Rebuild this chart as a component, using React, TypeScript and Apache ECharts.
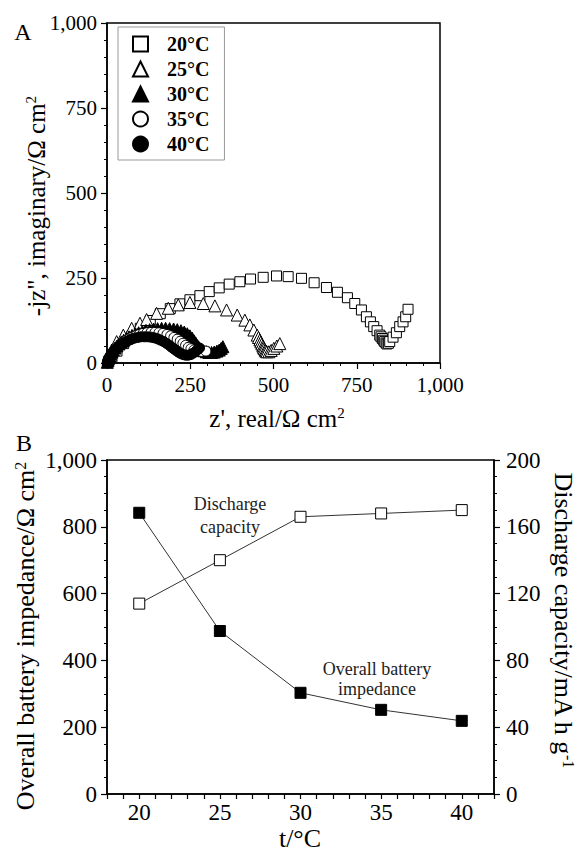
import React, { useEffect, useRef } from "react";
import * as echarts from "echarts";

// ---------- Panel A: Nyquist data (z', -z'') in Ω cm² ----------
const nyq20: number[][] = [
  [5, 5], [15, 18], [30, 35], [50, 57], [75, 80], [100, 102], [130, 125], [160, 145],
  [190, 160], [219, 174], [249, 186], [279, 198], [307, 210], [337, 221], [367, 232],
  [399, 239], [431, 247], [469, 252], [509, 256], [544, 254], [584, 249], [622, 236],
  [659, 222], [692, 208], [722, 192], [744, 175], [764, 156], [779, 136], [791, 121],
  [801, 107], [811, 95], [819, 82], [823, 77], [827, 72], [831, 67], [834, 63],
  [838, 59], [841, 56], [845, 58], [849, 63], [859, 76], [869, 89], [879, 107],
  [889, 121], [897, 136], [904, 158],
];
const nyq25: number[][] = [
  [4, 14], [14, 38], [29, 63], [49, 82], [74, 102], [99, 117], [119, 128], [149, 146],
  [184, 161], [214, 171], [249, 178], [289, 175], [324, 168], [359, 156], [391, 141],
  [414, 126], [429, 112], [441, 97], [451, 82], [455, 75], [459, 68], [462, 62],
  [465, 56], [468, 50], [470, 46], [472, 42], [475, 38], [477, 35], [480, 33],
  [486, 33], [493, 37], [501, 43], [510, 50], [519, 57],
];
const nyq30: number[][] = [
  [1, 2], [3, 8], [5, 14], [8, 20], [11, 26], [15, 32], [19, 38], [24, 44], [30, 50],
  [36, 56], [43, 62], [50, 67], [58, 72], [66, 77], [75, 81], [85, 86], [95, 89],
  [106, 93], [117, 96], [128, 98], [140, 100], [152, 101], [164, 102], [176, 102],
  [188, 101], [200, 100], [211, 98], [222, 95], [232, 91], [241, 86], [249, 80],
  [256, 73], [262, 65], [267, 58], [272, 51], [277, 45], [283, 40], [290, 36],
  [298, 33], [306, 31], [314, 31], [322, 32], [330, 35], [337, 38], [343, 43], [348, 48],
];
const nyq35: number[][] = [
  [1, 2], [3, 7], [6, 13], [9, 19], [13, 25], [17, 31], [22, 37], [28, 43], [34, 49],
  [41, 55], [49, 61], [57, 66], [66, 71], [76, 76], [86, 80], [97, 84], [108, 87],
  [120, 89], [132, 90], [144, 90], [156, 89], [168, 87], [180, 84], [191, 80],
  [201, 75], [211, 70], [220, 64], [228, 58], [236, 52], [244, 46], [252, 42],
  [261, 38], [271, 35], [283, 34], [297, 35],
];
const nyq40: number[][] = [
  [1, 1], [2, 6], [4, 11], [7, 17], [10, 22], [14, 28], [18, 33], [23, 38], [28, 43],
  [34, 48], [41, 53], [48, 58], [56, 62], [64, 66], [73, 70], [82, 73], [92, 75],
  [102, 77], [112, 77], [122, 77], [132, 76], [142, 74], [152, 71], [161, 67],
  [170, 63], [178, 58], [186, 53], [193, 47], [200, 42], [207, 37], [214, 32],
  [221, 28], [228, 25], [236, 23], [244, 23], [252, 25], [259, 29], [266, 34],
  [272, 39], [278, 44],
];
const legendNames = ["20°C", "25°C", "30°C", "35°C", "40°C"];

// ---------- Panel B ----------
const temperatures = [20, 25, 30, 35, 40];
const impedance = [842, 488, 303, 252, 219];
const capacity = [114, 140, 166, 168, 170];

const xTicksA = [0, 250, 500, 750, 1000];

const SERIF = "Liberation Serif, Times New Roman, serif";

export default function App() {
  const ref = useRef<HTMLDivElement>(null);

  useEffect(() => {
    if (!ref.current) return;
    const chart = echarts.init(ref.current, undefined, { renderer: "svg" });

    const axisLine = { lineStyle: { color: "#000", width: 1.5 } };
    const axisTick = { inside: false, length: 6, lineStyle: { color: "#000", width: 1.2 } };
    const minorTick = (n: number) => ({
      show: true,
      splitNumber: n,
      length: 3,
      lineStyle: { color: "#000", width: 1 },
    });
    const label = (size: number, margin: number, fmt?: (v: number) => string) => {
      const o: any = { color: "#000", fontFamily: SERIF, fontSize: size, margin };
      if (fmt) o.formatter = fmt;
      return o;
    };
    const comma = (v: number) => v.toLocaleString("en-US");

    const open = { color: "#fff", borderColor: "#000", borderWidth: 1, opacity: 1 };
    const filled = { color: "#000", borderColor: "#000", borderWidth: 1, opacity: 1 };

    const nyqSeries = [
      { name: legendNames[0], data: nyq20, symbol: "rect", size: 10, style: open },
      { name: legendNames[1], data: nyq25, symbol: "triangle", size: 12, style: open },
      { name: legendNames[2], data: nyq30, symbol: "triangle", size: 12, style: filled },
      { name: legendNames[3], data: nyq35, symbol: "circle", size: 10, style: open },
      { name: legendNames[4], data: nyq40, symbol: "circle", size: 10, style: filled },
    ].map((s) => ({
      type: "scatter",
      name: s.name,
      xAxisIndex: 0,
      yAxisIndex: 0,
      symbol: s.symbol,
      symbolSize: s.size,
      itemStyle: s.style,
      data: s.data,
    }));

    const option: any = {
      animation: false,
      backgroundColor: "#fff",
      textStyle: { fontFamily: SERIF, color: "#000" },
      grid: [
        { left: 107, top: 23, width: 333, height: 340, show: true, borderColor: "#000", borderWidth: 1.5 },
        { left: 107, top: 460, width: 387, height: 334, show: true, borderColor: "#000", borderWidth: 1.5 },
      ],
      xAxis: [
        {
          gridIndex: 0, type: "value", min: xTicksA[0], max: xTicksA[xTicksA.length - 1], interval: 250,
          axisLine, axisTick, minorTick: minorTick(5), splitLine: { show: false },
          axisLabel: label(21, 11, comma),
        },
        {
          gridIndex: 1, type: "value", min: 18, max: 42, interval: 1,
          axisLine, axisTick: { ...axisTick, length: 5 }, splitLine: { show: false },
          axisLabel: label(23, 7, (v: number) => (v % 5 === 0 ? String(v) : "")),
        },
      ],
      yAxis: [
        {
          gridIndex: 0, type: "value", min: 0, max: 1000, interval: 250,
          axisLine, axisTick, minorTick: minorTick(5), splitLine: { show: false },
          axisLabel: label(21, 10, comma),
        },
        {
          gridIndex: 1, type: "value", min: 0, max: 1000, interval: 200,
          axisLine, axisTick, minorTick: minorTick(4), splitLine: { show: false },
          axisLabel: label(23, 10, comma),
        },
        {
          gridIndex: 1, type: "value", min: 0, max: 200, interval: 40, position: "right",
          axisLine, axisTick, minorTick: minorTick(4), splitLine: { show: false },
          axisLabel: label(23, 12),
        },
      ],
      legend: {
        data: legendNames,
        orient: "vertical",
        left: 118,
        top: 27,
        padding: [7, 15, 6, 14],
        itemGap: 5,
        itemWidth: 15,
        itemHeight: 15,
        borderColor: "#999",
        borderWidth: 1,
        backgroundColor: "#fff",
        selectedMode: false,
        textStyle: {
          fontFamily: SERIF,
          fontWeight: "bold",
          fontSize: 20,
          color: "#000",
          lineHeight: 20,
          padding: [0, 0, 0, 14],
        },
      },
      series: [
        ...nyqSeries,
        {
          type: "line",
          name: "Discharge capacity",
          xAxisIndex: 1,
          yAxisIndex: 2,
          symbol: "rect",
          symbolSize: 11,
          itemStyle: open,
          lineStyle: { color: "#333", width: 1 },
          data: temperatures.map((t, i) => [t, capacity[i]]),
        },
        {
          type: "line",
          name: "Overall battery impedance",
          xAxisIndex: 1,
          yAxisIndex: 1,
          symbol: "rect",
          symbolSize: 11,
          itemStyle: filled,
          lineStyle: { color: "#333", width: 1 },
          data: temperatures.map((t, i) => [t, impedance[i]]),
        },
      ],
      graphic: [
        { type: "text", x: 23, y: 32, style: { text: "A", font: `24px ${SERIF}`, fill: "#000", align: "center", verticalAlign: "middle" } },
        { type: "text", x: 24, y: 443, style: { text: "B", font: `24px ${SERIF}`, fill: "#000", align: "center", verticalAlign: "middle" } },
        {
          type: "text", x: 36, y: 206, rotation: Math.PI / 2,
          style: {
            text: '{a|-jz", imaginary/Ω cm}{s|2}',
            rich: {
              a: { fontSize: 25, fontFamily: SERIF, fill: "#000" },
              s: { fontSize: 15, fontFamily: SERIF, fill: "#000", verticalAlign: "top" },
            },
            align: "center", verticalAlign: "middle",
          },
        },
        {
          type: "text", x: 277, y: 418,
          style: {
            text: "{a|z', real/Ω cm}{s|2}",
            rich: {
              a: { fontSize: 25, fontFamily: SERIF, fill: "#000" },
              s: { fontSize: 15, fontFamily: SERIF, fill: "#000", verticalAlign: "top" },
            },
            align: "center", verticalAlign: "middle",
          },
        },
        {
          type: "text", x: 25, y: 636, rotation: Math.PI / 2,
          style: {
            text: "{a|Overall battery impedance/Ω cm}{s|2}",
            rich: {
              a: { fontSize: 26, fontFamily: SERIF, fill: "#000" },
              s: { fontSize: 16, fontFamily: SERIF, fill: "#000", verticalAlign: "top" },
            },
            align: "center", verticalAlign: "middle",
          },
        },
        {
          type: "text", x: 563, y: 620, rotation: -Math.PI / 2,
          style: {
            text: "{a|Discharge capacity/mA h g}{s|-1}",
            rich: {
              a: { fontSize: 26, fontFamily: SERIF, fill: "#000" },
              s: { fontSize: 16, fontFamily: SERIF, fill: "#000", verticalAlign: "top" },
            },
            align: "center", verticalAlign: "middle",
          },
        },
        { type: "text", x: 300, y: 838, style: { text: "t/°C", font: `26px ${SERIF}`, fill: "#000", align: "center", verticalAlign: "middle" } },
        { type: "text", x: 230, y: 515, style: { text: "Discharge\ncapacity", font: `18px ${SERIF}`, lineHeight: 23, fill: "#222", align: "center", verticalAlign: "middle" } },
        { type: "text", x: 377, y: 679, style: { text: "Overall battery\nimpedance", font: `18px ${SERIF}`, lineHeight: 20, fill: "#222", align: "center", verticalAlign: "middle" } },
      ],
    };

    chart.setOption(option);
    return () => chart.dispose();
  }, []);

  return <div ref={ref} style={{ position: "absolute", left: 0, top: 0, width: 581, height: 856 }} />;
}
